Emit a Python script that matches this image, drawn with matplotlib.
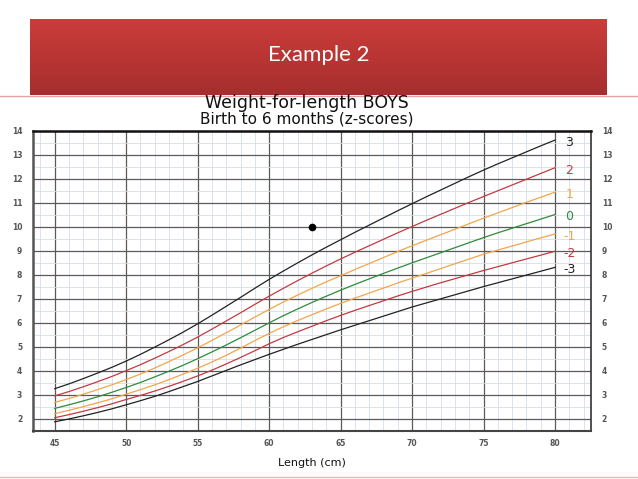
import numpy as np
import matplotlib
matplotlib.use("Agg")
import matplotlib.pyplot as plt
from matplotlib.ticker import MultipleLocator

# ---- data ----
length_cm = [45, 46, 47, 48, 49, 50, 51, 52, 53, 54, 55, 56, 57, 58, 59, 60, 61, 62,
             63, 64, 65, 66, 67, 68, 69, 70, 71, 72, 73, 74, 75, 76, 77, 78, 79, 80]
z_p3 = [3.25, 3.45, 3.67, 3.90, 4.14, 4.40, 4.68, 4.98, 5.29, 5.61, 5.95, 6.31, 6.68, 7.05, 7.43, 7.80,
        8.15, 8.49, 8.82, 9.14, 9.45, 9.76, 10.06, 10.36, 10.66, 10.95, 11.24, 11.52, 11.80, 12.08, 12.35,
        12.61, 12.86, 13.11, 13.36, 13.60]
z_p2 = [2.95, 3.13, 3.33, 3.54, 3.76, 4.00, 4.25, 4.52, 4.80, 5.09, 5.40, 5.73, 6.07, 6.41, 6.76, 7.10,
        7.43, 7.75, 8.06, 8.36, 8.65, 8.93, 9.20, 9.47, 9.74, 10.00, 10.26, 10.51, 10.76, 11.01, 11.25,
        11.49, 11.73, 11.97, 12.21, 12.45]
z_p1 = [2.68, 2.84, 3.02, 3.21, 3.41, 3.63, 3.86, 4.11, 4.38, 4.66, 4.95, 5.26, 5.58, 5.90, 6.23, 6.55,
        6.86, 7.15, 7.43, 7.70, 7.95, 8.21, 8.46, 8.71, 8.96, 9.20, 9.43, 9.66, 9.89, 10.12, 10.35,
        10.57, 10.79, 11.01, 11.22, 11.43]
z_0 = [2.43, 2.58, 2.74, 2.91, 3.10, 3.30, 3.51, 3.74, 3.98, 4.23, 4.50, 4.78, 5.07, 5.37, 5.68, 5.99,
       6.29, 6.57, 6.84, 7.10, 7.35, 7.59, 7.82, 8.05, 8.27, 8.49, 8.70, 8.91, 9.12, 9.33, 9.54,
       9.74, 9.93, 10.12, 10.31, 10.50]
z_m1 = [2.21, 2.35, 2.50, 2.66, 2.83, 3.02, 3.21, 3.41, 3.63, 3.86, 4.10, 4.36, 4.64, 4.94, 5.25, 5.55,
        5.83, 6.09, 6.33, 6.57, 6.80, 7.02, 7.23, 7.44, 7.65, 7.85, 8.05, 8.25, 8.45, 8.65, 8.85,
        9.02, 9.19, 9.36, 9.53, 9.69]
z_m2 = [2.04, 2.17, 2.31, 2.46, 2.62, 2.80, 2.97, 3.15, 3.35, 3.56, 3.78, 4.02, 4.28, 4.55, 4.83, 5.12,
        5.38, 5.62, 5.85, 6.08, 6.30, 6.51, 6.71, 6.91, 7.11, 7.30, 7.48, 7.66, 7.83, 8.00, 8.17,
        8.33, 8.49, 8.65, 8.81, 8.97]
z_m3 = [1.87, 1.99, 2.12, 2.26, 2.41, 2.58, 2.75, 2.93, 3.13, 3.34, 3.55, 3.78, 4.01, 4.24, 4.46, 4.68,
        4.89, 5.10, 5.30, 5.50, 5.70, 5.89, 6.08, 6.27, 6.46, 6.65, 6.82, 6.99, 7.16, 7.33, 7.50,
        7.66, 7.82, 7.98, 8.14, 8.30]
curve_labels = ["3", "2", "1", "0", "-1", "-2", "-3"]
child_point = (63, 10)
x_ticks = [45, 50, 55, 60, 65, 70, 75, 80]
y_ticks = [2, 3, 4, 5, 6, 7, 8, 9, 10, 11, 12, 13, 14]

curves = [z_p3, z_p2, z_p1, z_0, z_m1, z_m2, z_m3]
colors = ["#222222", "#C23A40", "#F2A54A", "#2E8B3A", "#F2A54A", "#C23A40", "#222222"]

W, H = 638, 479
fig = plt.figure(figsize=(W / 100, H / 100), dpi=100)
fig.patch.set_facecolor("white")

# ---- red banner ----
bax = fig.add_axes([30 / W, 1 - 95 / H, 577 / W, 76 / H])
top = np.array([0.80, 0.24, 0.23])
bot = np.array([0.65, 0.18, 0.18])
t = np.linspace(0, 1, 100)[:, None]
grad = (top[None, :] * (1 - t) + bot[None, :] * t)[:, None, :]
bax.imshow(grad, aspect="auto", extent=[0, 1, 0, 1])
bax.set_xlim(0, 1)
bax.set_ylim(0, 1)
bax.axis("off")
bax.text(0.5, 0.53, "Example 2", color="white", fontsize=16, family="Lato",
         ha="center", va="center")

# pink frame lines
fig.add_artist(plt.Line2D([0, 1], [1 - 96 / H, 1 - 96 / H], color="#DFA3A3", lw=1.0,
                          transform=fig.transFigure))
fig.add_artist(plt.Line2D([0, 1], [1 - 477 / H, 1 - 477 / H], color="#E8B8B8", lw=1.0,
                          transform=fig.transFigure))

# ---- titles ----
fig.text(307 / W, 1 - 103 / H, "Weight-for-length BOYS", fontsize=12.5, family="DejaVu Sans",
         ha="center", va="center", color="#111111")
fig.text(307 / W, 1 - 119.5 / H, "Birth to 6 months (z-scores)", fontsize=11, family="DejaVu Sans",
         ha="center", va="center", color="#111111")

# ---- chart ----
ax = fig.add_axes([33.3 / W, 1 - 430.7 / H, (590.7 - 33.3) / W, (430.7 - 130.5) / H])
ax.set_xlim(43.5, 82.5)
ax.set_ylim(1.5, 14.0)
ax.xaxis.set_minor_locator(MultipleLocator(1))
ax.yaxis.set_minor_locator(MultipleLocator(0.5))
ax.set_xticks(x_ticks)
ax.set_yticks(y_ticks)
ax.grid(which="minor", color="#D3DDEE", lw=0.6)
ax.grid(which="major", color="#5A5A5A", lw=0.9)
ax.set_axisbelow(True)

for ys, c in zip(curves, colors):
    ax.plot(length_cm, ys, color=c, lw=0.9)
for ys, c, lab in zip(curves, colors, curve_labels):
    ax.text(81.0, ys[-1] - 0.1, lab, color=c, fontsize=9, family="DejaVu Sans",
            ha="center", va="center")

ax.plot([child_point[0]], [child_point[1]], "o", color="black", markersize=4.5)

ax.spines["left"].set_linewidth(1.8)
ax.spines["left"].set_color("#555555")
ax.spines["bottom"].set_linewidth(1.5)
ax.spines["bottom"].set_color("#444444")
ax.spines["top"].set_linewidth(1.8)
ax.spines["top"].set_color("#111111")
ax.spines["right"].set_linewidth(1.2)
ax.spines["right"].set_color("#333333")

ax.tick_params(which="both", length=0)
ax.tick_params(axis="y", labelright=True, labelleft=True, pad=8)
ax.tick_params(axis="x", pad=6)
for lab in ax.get_xticklabels() + ax.get_yticklabels():
    lab.set_fontsize(5.5)
    lab.set_fontweight("bold")
    lab.set_color("#555555")
    lab.set_family("DejaVu Sans")
ax.set_xlabel("Length (cm)", fontsize=8, family="DejaVu Sans", color="#111111", labelpad=7)

fig.savefig("out.png", dpi=100, facecolor="white")
